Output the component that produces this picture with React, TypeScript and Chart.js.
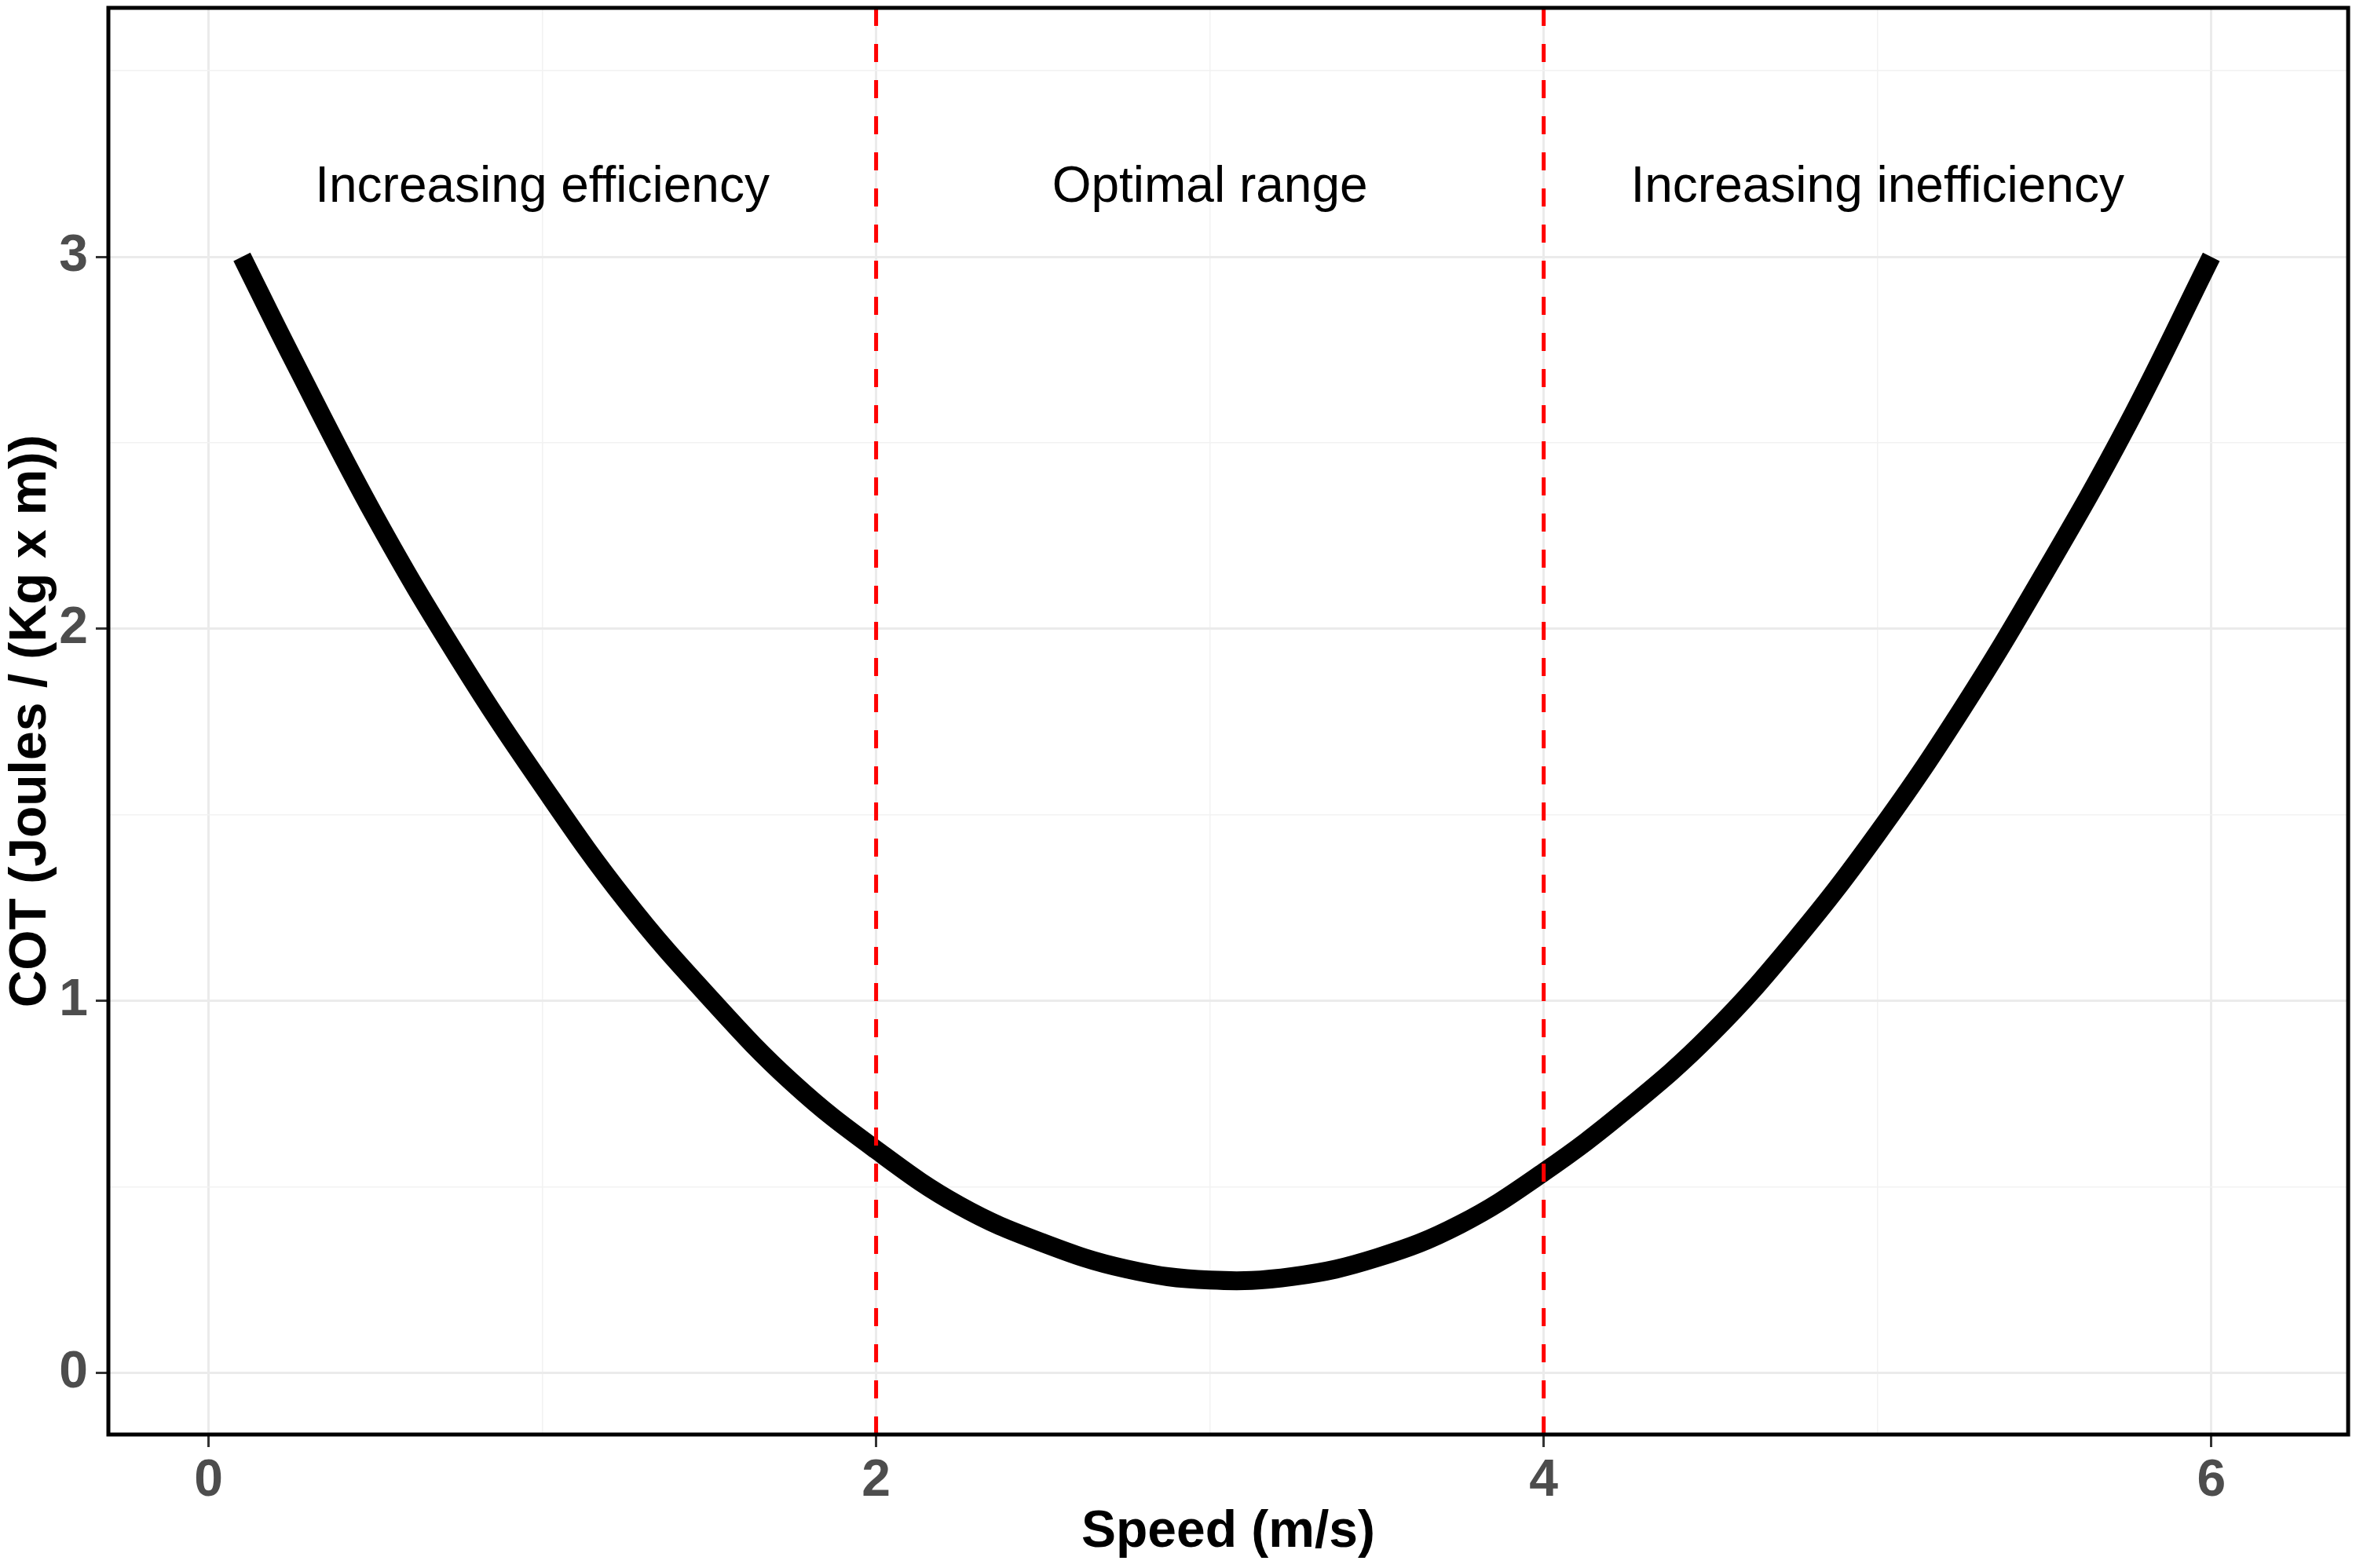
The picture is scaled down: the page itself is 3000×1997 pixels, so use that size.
import React, { useEffect, useRef } from "react";
import Chart from "chart.js/auto";

// speed (m/s) and cost of transport
const speeds = [0.1, 0.25, 0.5, 0.75, 1, 1.25, 1.5, 1.75, 2, 2.25, 2.5, 2.75, 3, 3.25, 3.5, 3.75, 4, 4.25, 4.5, 4.75, 5, 5.25, 5.5, 5.75, 6];
const cot = [3.0, 2.73, 2.3, 1.92, 1.58, 1.27, 1.01, 0.78, 0.6, 0.45, 0.35, 0.28, 0.25, 0.26, 0.31, 0.4, 0.54, 0.71, 0.91, 1.16, 1.45, 1.78, 2.15, 2.55, 3.0];

const rangeBounds = [2, 4];
const zoneLabels = ["Increasing efficiency", "Optimal range", "Increasing inefficiency"];
const zoneLabelX = [1, 3, 5];
const zoneLabelY = 3.185;

const xTicks = [0, 1, 2, 3, 4, 5, 6];
const xMajor = [0, 2, 4, 6];
const yTicks = [0, 0.5, 1, 1.5, 2, 2.5, 3, 3.5];
const yMajor = [0, 1, 2, 3];

const X_MIN = -0.3;
const X_MAX = 6.41;
const Y_MIN = -0.165;
const Y_MAX = 3.669;

const zoneText = {
  id: "zoneText",
  afterDatasetsDraw(chart: any) {
    const { ctx, scales } = chart;
    ctx.save();
    ctx.font = '64px "Liberation Sans", Arial, sans-serif';
    ctx.fillStyle = "#000000";
    ctx.textAlign = "center";
    ctx.textBaseline = "middle";
    zoneLabels.forEach((label, i) => {
      ctx.fillText(label, scales.x.getPixelForValue(zoneLabelX[i]), scales.y.getPixelForValue(zoneLabelY));
    });
    ctx.restore();
  },
};

const panelBorder = {
  id: "panelBorder",
  afterDraw(chart: any) {
    const { ctx, chartArea } = chart;
    ctx.save();
    ctx.strokeStyle = "#000000";
    ctx.lineWidth = 5;
    ctx.strokeRect(chartArea.left, chartArea.top, chartArea.right - chartArea.left, chartArea.bottom - chartArea.top);
    ctx.restore();
  },
};

const isMajor = (list: number[], v: number) => list.some((m) => Math.abs(m - v) < 1e-6);

const App = () => {
  const chartRef = useRef<HTMLCanvasElement>(null);

  useEffect(() => {
    document.body.style.margin = "0";
    if (!chartRef.current) return;

    const tickFont = { family: '"Liberation Sans", Arial, sans-serif', size: 66, weight: "bold" as const };
    const titleFont = { family: '"Liberation Sans", Arial, sans-serif', size: 66, weight: "bold" as const };

    const myChart = new Chart(chartRef.current, {
      type: "scatter",
      data: {
        datasets: [
          ...rangeBounds.map((b) => ({
            type: "line" as const,
            data: [
              { x: b, y: Y_MIN },
              { x: b, y: Y_MAX },
            ],
            borderColor: "#ff0000",
            borderWidth: 5,
            borderDash: [23, 23],
            pointRadius: 0,
            fill: false,
          })),
          {
            type: "line" as const,
            data: speeds.map((s, i) => ({ x: s, y: cot[i] })),
            borderColor: "#000000",
            borderWidth: 24,
            borderCapStyle: "butt",
            borderJoinStyle: "round",
            tension: 0.4,
            pointRadius: 0,
            fill: false,
          },
        ],
      },
      options: {
        animation: false,
        responsive: true,
        maintainAspectRatio: false,
        devicePixelRatio: 1,
        layout: { padding: { top: 10, right: 10, left: 0, bottom: 0 } },
        plugins: { legend: { display: false }, tooltip: { enabled: false } },
        scales: {
          x: {
            type: "linear",
            min: X_MIN,
            max: X_MAX,
            afterBuildTicks: (scale: any) => {
              scale.ticks = xTicks.map((v) => ({ value: v }));
            },
            afterFit: (scale: any) => {
              scale.height = 170;
              scale.paddingLeft = 0;
              scale.paddingRight = 0;
            },
            border: { display: false },
            grid: {
              color: (c: any) => (isMajor(xMajor, c.tick?.value) ? "#ebebeb" : "#f2f2f2"),
              lineWidth: (c: any) => (isMajor(xMajor, c.tick?.value) ? 3 : 1.5),
              tickColor: (c: any) => (isMajor(xMajor, c.tick?.value) ? "#333333" : "rgba(0,0,0,0)"),
              tickLength: 16,
              tickWidth: 3,
            },
            ticks: {
              color: "#4d4d4d",
              font: tickFont,
              padding: 4,
              maxRotation: 0,
              callback: (v: any) => (isMajor(xMajor, Number(v)) ? String(v) : ""),
            },
            title: {
              display: true,
              text: "Speed (m/s)",
              color: "#000000",
              font: titleFont,
              padding: { top: 0, bottom: 6 },
            },
          },
          y: {
            type: "linear",
            min: Y_MIN,
            max: Y_MAX,
            afterBuildTicks: (scale: any) => {
              scale.ticks = yTicks.map((v) => ({ value: v }));
            },
            afterFit: (scale: any) => {
              scale.width = 138;
              scale.paddingTop = 0;
              scale.paddingBottom = 0;
            },
            border: { display: false },
            grid: {
              color: (c: any) => (isMajor(yMajor, c.tick?.value) ? "#ebebeb" : "#f2f2f2"),
              lineWidth: (c: any) => (isMajor(yMajor, c.tick?.value) ? 3 : 1.5),
              tickColor: (c: any) => (isMajor(yMajor, c.tick?.value) ? "#333333" : "rgba(0,0,0,0)"),
              tickLength: 16,
              tickWidth: 3,
            },
            ticks: {
              color: "#4d4d4d",
              font: tickFont,
              padding: 10,
              callback: (v: any) => (isMajor(yMajor, Number(v)) ? String(v) : ""),
            },
            title: {
              display: true,
              text: "COT (Joules / (Kg x m))",
              color: "#000000",
              font: titleFont,
              padding: 0,
            },
          },
        },
      },
      plugins: [zoneText, panelBorder],
    } as any);

    return () => {
      myChart.destroy();
    };
  }, []);

  return (
    <div style={{ position: "absolute", left: 0, top: 0, width: 3000, height: 1997, background: "#ffffff" }}>
      <canvas ref={chartRef} />
    </div>
  );
};

export default App;
